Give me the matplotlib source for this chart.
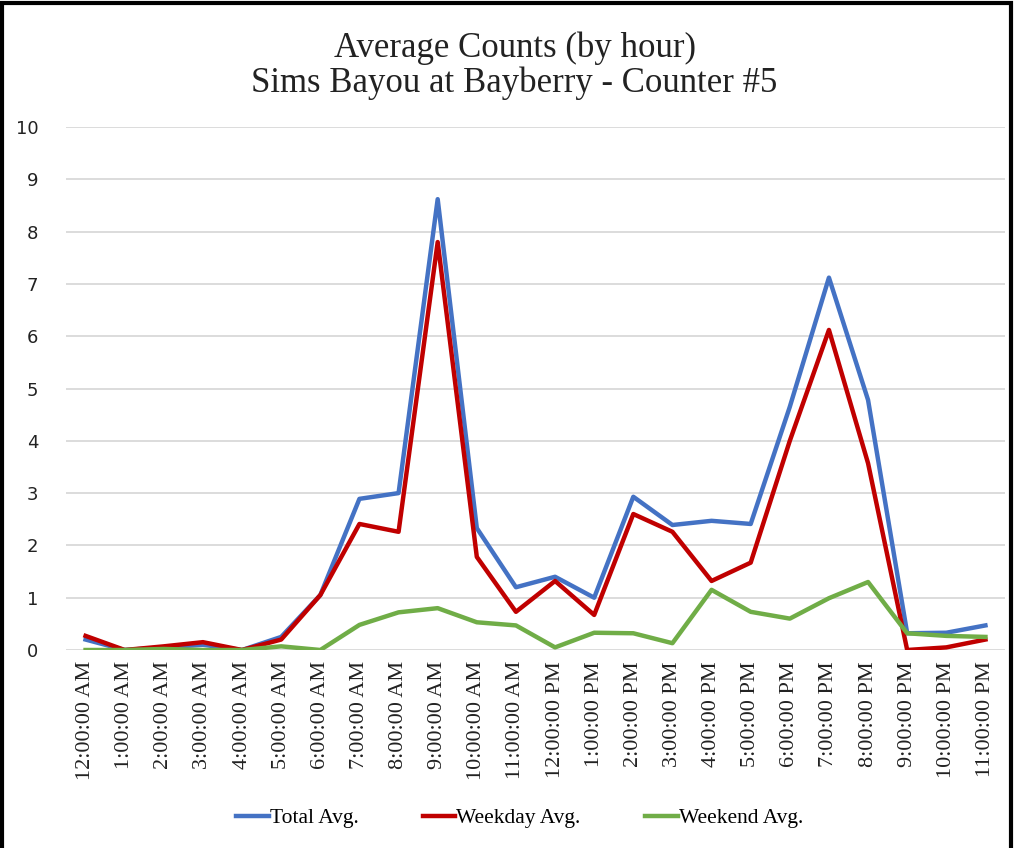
import matplotlib
import matplotlib.pyplot as plt
from matplotlib.patches import Rectangle

matplotlib.use("Agg")

hours = ["12:00:00 AM", "1:00:00 AM", "2:00:00 AM", "3:00:00 AM", "4:00:00 AM",
         "5:00:00 AM", "6:00:00 AM", "7:00:00 AM", "8:00:00 AM", "9:00:00 AM",
         "10:00:00 AM", "11:00:00 AM", "12:00:00 PM", "1:00:00 PM", "2:00:00 PM",
         "3:00:00 PM", "4:00:00 PM", "5:00:00 PM", "6:00:00 PM", "7:00:00 PM",
         "8:00:00 PM", "9:00:00 PM", "10:00:00 PM", "11:00:00 PM"]
total_avg = [0.2, 0.0, 0.05, 0.1, 0.0, 0.25, 1.05, 2.89, 3.0, 8.62, 2.33, 1.2,
             1.4, 1.0, 2.93, 2.39, 2.47, 2.41, 4.65, 7.12, 4.78, 0.32, 0.33, 0.47]
weekday_avg = [0.27, 0.0, 0.07, 0.15, 0.0, 0.2, 1.05, 2.41, 2.26, 7.8, 1.78, 0.73,
               1.32, 0.67, 2.6, 2.26, 1.32, 1.67, 4.0, 6.12, 3.57, 0.0, 0.05, 0.2]
weekend_avg = [0.0, 0.0, 0.02, 0.0, 0.0, 0.07, 0.0, 0.48, 0.72, 0.8, 0.53, 0.47,
               0.05, 0.33, 0.32, 0.13, 1.15, 0.73, 0.6, 0.99, 1.3, 0.32, 0.27, 0.25]

serif = ["Liberation Serif", "DejaVu Serif"]

fig = plt.figure(figsize=(10.15, 8.48), dpi=100)
ax = fig.add_axes([66 / 1015, 198 / 848, 939 / 1015, 523 / 848])

x = list(range(len(hours)))
ax.plot(x, total_avg, color="#4472C4", linewidth=3.2, label="Total Avg.")
ax.plot(x, weekday_avg, color="#C00000", linewidth=3.2, label="Weekday Avg.")
ax.plot(x, weekend_avg, color="#70AD47", linewidth=3.2, label="Weekend Avg.")

ax.set_xlim(-0.5, 23.5)
ax.set_ylim(0, 10)
ax.set_yticks(range(0, 11))
ax.set_xticks(x)
ax.set_xticklabels(hours, rotation=90, fontsize=16, family=serif)
for lbl in ax.get_yticklabels():
    lbl.set_fontsize(13)
ax.tick_params(axis="both", length=0, colors="#222222")
ax.tick_params(axis="y", pad=20)
ax.tick_params(axis="x", pad=8)
ax.grid(axis="y", color="#d9d9d9", linewidth=1.3)
ax.set_axisbelow(True)
for spine in ax.spines.values():
    spine.set_visible(False)

fig.text(0.507, 0.943, "Average Counts (by hour)", ha="center", va="center",
         fontsize=25, family=serif, color="#222222")
fig.text(0.507, 0.902, "Sims Bayou at Bayberry - Counter #5", ha="center", va="center",
         fontsize=25, family=serif, color="#222222")

fig.legend(loc="center", bbox_to_anchor=(0.512, 1 - 818 / 848), ncol=3, frameon=False,
           handlelength=1.5, handletextpad=0.05, columnspacing=3.0,
           prop={"family": serif, "size": 15.5})

fig.patches.append(Rectangle((0.002, -0.01), 0.994, 1.006, transform=fig.transFigure,
                             fill=False, edgecolor="black", linewidth=3))

fig.savefig("out.png", dpi=100)
